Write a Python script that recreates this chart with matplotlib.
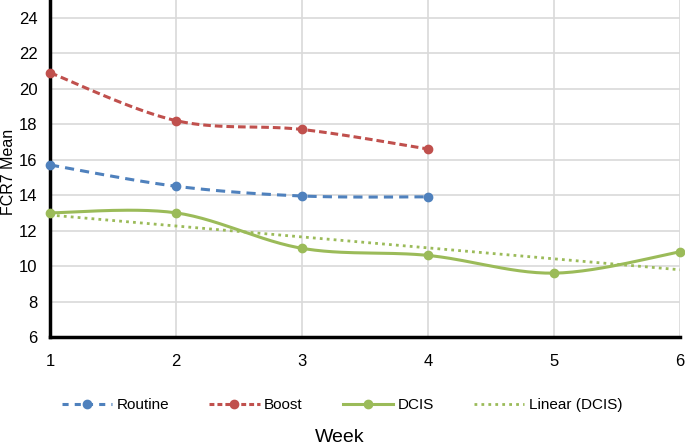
import numpy as np
import matplotlib
matplotlib.use("Agg")
import matplotlib.pyplot as plt

plt.rcParams['font.family'] = ['Liberation Sans', 'DejaVu Sans']

weeks = [1, 2, 3, 4, 5, 6]
routine = [15.7, 14.5, 13.95, 13.9]
boost = [20.9, 18.2, 17.7, 16.6]
dcis = [13.0, 13.0, 11.0, 10.6, 9.6, 10.8]
y_ticks = [6, 8, 10, 12, 14, 16, 18, 20, 22, 24]


def smooth(x, y, n=30):
    # Catmull-Rom style smoothing, similar to Excel's smoothed lines
    x = np.asarray(x, float)
    y = np.asarray(y, float)
    px = np.concatenate([[x[0]], x, [x[-1]]])
    py = np.concatenate([[y[0]], y, [y[-1]]])
    xs, ys = [], []
    t = np.linspace(0, 1, n)
    for i in range(1, len(px) - 2):
        p0, p1, p2, p3 = (np.array([px[j], py[j]]) for j in range(i - 1, i + 3))
        c1 = p1 + (p2 - p0) / 6
        c2 = p2 - (p3 - p1) / 6
        pts = ((1 - t)[:, None] ** 3 * p1 + 3 * ((1 - t) ** 2 * t)[:, None] * c1
               + 3 * ((1 - t) * t ** 2)[:, None] * c2 + (t ** 3)[:, None] * p2)
        xs.extend(pts[:, 0])
        ys.extend(pts[:, 1])
    return xs, ys


fig = plt.figure(figsize=(6.85, 4.44), dpi=100)
ax = fig.add_axes([50 / 685, 1 - 337 / 444, 630 / 685, 337 / 444])

blue = '#4F81BD'
red = '#C0504D'
green = '#9BBB59'
ms = 6

sx, sy = smooth(weeks[:4], routine)
ax.plot(sx, sy, color=blue, lw=2.2, ls=(0, (3, 2)), zorder=3)
ax.plot(weeks[:4], routine, 'o', color=blue, ms=ms, zorder=5, clip_on=False)

sx, sy = smooth(weeks[:4], boost)
ax.plot(sx, sy, color=red, lw=2.2, ls=(0, (2.5, 1.3)), zorder=3)
ax.plot(weeks[:4], boost, 'o', color=red, ms=ms, zorder=5, clip_on=False)

sx, sy = smooth(weeks, dcis)
ax.plot(sx, sy, color=green, lw=2.2, zorder=3)
ax.plot(weeks, dcis, 'o', color=green, ms=ms, zorder=5, clip_on=False)

slope, icpt = np.polyfit(weeks, dcis, 1)
wx = np.array([weeks[0], weeks[-1]])
ax.plot(wx, slope * wx + icpt, color=green, lw=2, ls=(0, (1, 1.5)), zorder=3)

ax.set_xlim(1, 6)
ax.set_ylim(6, 25)
ax.set_xticks(weeks)
ax.set_yticks(y_ticks)
ax.grid(True, color='#D9D9D9', lw=1.2)
ax.set_axisbelow(True)
for s in ['top', 'right']:
    ax.spines[s].set_visible(False)
for s in ['left', 'bottom']:
    ax.spines[s].set_linewidth(2.5)
    ax.spines[s].set_color('black')
ax.tick_params(length=0, labelsize=12)
ax.tick_params(axis='x', pad=12)
ax.tick_params(axis='y', pad=9)
fig.text(9 / 685, 1 - 172 / 444, 'FCR7 Mean', fontsize=11.5, rotation=90,
         ha='center', va='center')
fig.text(340 / 685, 1 - 437 / 444, 'Week', fontsize=14, ha='center', va='center')

handles = [
    plt.Line2D([], [], color=blue, lw=2.2, ls=(0, (2, 2)), marker='o', ms=ms),
    plt.Line2D([], [], color=red, lw=2.2, ls=(0, (1.6, 1)), marker='o', ms=ms),
    plt.Line2D([], [], color=green, lw=2.2, marker='o', ms=ms),
    plt.Line2D([], [], color=green, lw=2, ls=(0, (1, 1.5))),
]
labels = ['Routine', 'Boost', 'DCIS', 'Linear (DCIS)']
fig.legend(handles, labels, loc='center', ncol=4, frameon=False,
           bbox_to_anchor=(342 / 685, 1 - 405 / 444), fontsize=11,
           columnspacing=2.6, handlelength=3.3, handletextpad=0.3)

fig.savefig('out.png', dpi=100)
